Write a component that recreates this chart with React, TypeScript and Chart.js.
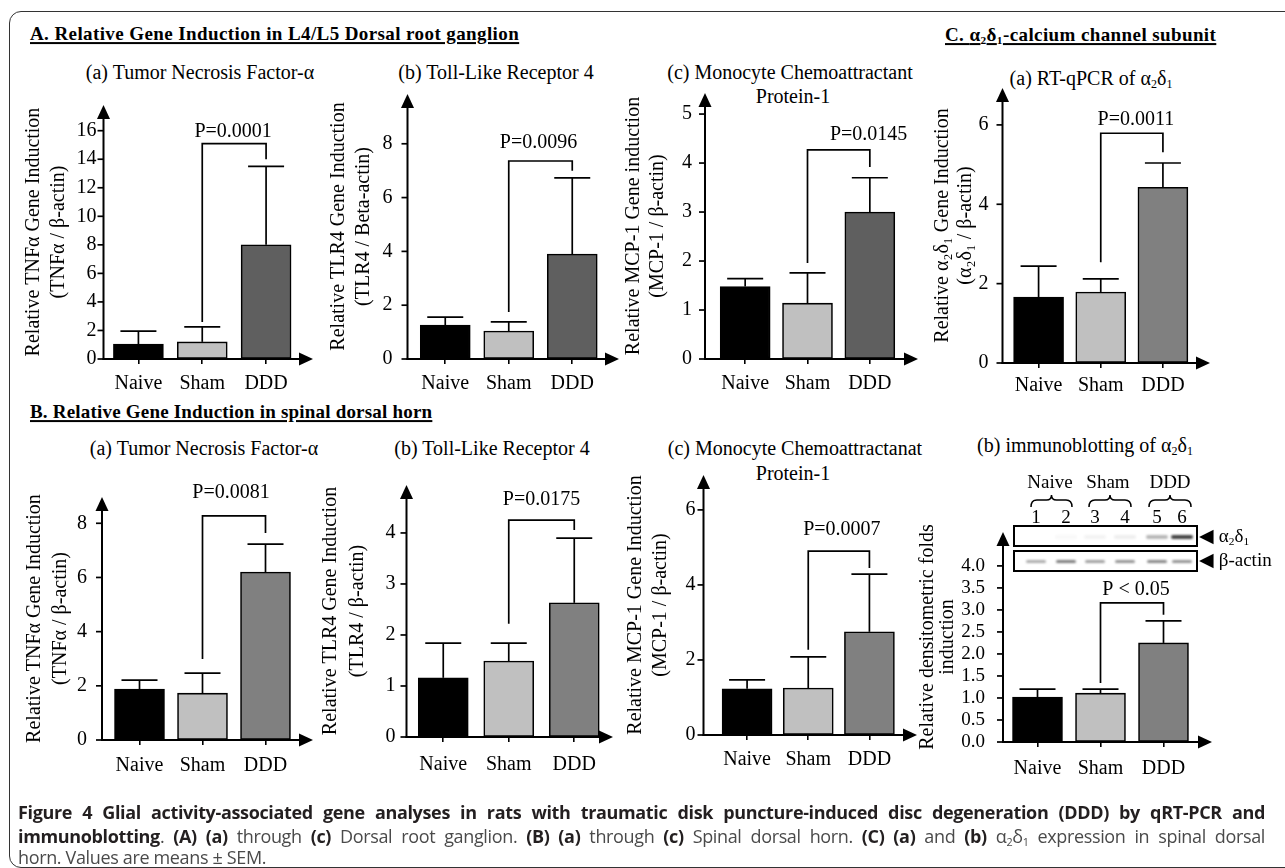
import React, { useEffect, useRef } from "react";
import { Chart, registerables } from "chart.js";
Chart.register(...registerables);

const SERIF = "'Liberation Serif', 'Times New Roman', serif";
const SANS = "'Open Sans', 'Noto Sans', sans-serif";

// ---------- data ----------
const groups = ["Naive", "Sham", "DDD"];

// A. L4/L5 dorsal root ganglion
const drgTnfMean = [1.05, 1.2, 8.0];
const drgTnfSem = [0.9, 1.05, 5.5];
const drgTnfTicks = [0, 2, 4, 6, 8, 10, 12, 14, 16];
const drgTnfBracket = [2.6, 15.1, 14.0];

const drgTlrMean = [1.26, 1.04, 3.9];
const drgTlrSem = [0.3, 0.34, 2.83];
const drgTlrTicks = [0, 2, 4, 6, 8];
const drgTlrBracket = [1.75, 7.36, 7.0];

const drgMcpMean = [1.48, 1.14, 3.0];
const drgMcpSem = [0.16, 0.62, 0.7];
const drgMcpTicks = [0, 1, 2, 3, 4, 5];
const drgMcpBracket = [1.96, 4.27, 3.92];

// C(a) RT-qPCR of a2d1
const a2d1Mean = [1.66, 1.79, 4.43];
const a2d1Sem = [0.78, 0.33, 0.61];
const a2d1Ticks = [0, 2, 4, 6];
const a2d1Bracket = [2.54, 5.79, 5.31];

// B. spinal dorsal horn
const sdhTnfMean = [1.88, 1.73, 6.2];
const sdhTnfSem = [0.33, 0.74, 1.03];
const sdhTnfTicks = [0, 2, 4, 6, 8];
const sdhTnfBracket = [2.99, 8.27, 7.64];

const sdhTlrMean = [1.16, 1.49, 2.63];
const sdhTlrSem = [0.68, 0.35, 1.27];
const sdhTlrTicks = [0, 1, 2, 3, 4];
const sdhTlrBracket = [2.22, 4.25, 4.06];

const sdhMcpMean = [1.23, 1.25, 2.75];
const sdhMcpSem = [0.24, 0.83, 1.54];
const sdhMcpTicks = [0, 2, 4, 6];
const sdhMcpBracket = [2.27, 4.9, 4.45];

// C(b) densitometry of immunoblot
const blotMean = [1.02, 1.11, 2.25];
const blotSem = [0.18, 0.09, 0.5];
const blotTicks = [0, 0.5, 1, 1.5, 2, 2.5, 3, 3.5, 4];
const blotBracket = [1.34, 3.16, 2.89];

const blotLanes = ["1", "2", "3", "4", "5", "6"];
const blotAlphaBand = [0.0, 0.03, 0.05, 0.07, 0.3, 0.8];
const blotActinBand = [0.35, 0.55, 0.4, 0.45, 0.5, 0.45];

// ---------- panels ----------
type Geo = {
  axisX: number; catLeft: number; catRight: number; y0: number; yTop: number;
  arrowX: number; line1X: number; lineGap: number; tickPad: number; pDx: number; pDy: number;
  tickSize: number; labelPad: number;
};
type Panel = {
  key: string; mean: number[]; sem: number[]; ticks: number[]; yMax: number;
  bracket: number[]; pText: string; yTitle: string[]; ddd: string; decimals: number; g: Geo;
};

const DARK = "#5f5f5f";
const MID = "#808080";

const panels: Panel[] = [
  {
    key: "Aa", mean: drgTnfMean, sem: drgTnfSem, ticks: drgTnfTicks, yMax: 17.8, bracket: drgTnfBracket,
    pText: "P=0.0001", yTitle: ["Relative TNFα Gene Induction", "(TNFα / β-actin)"], ddd: DARK, decimals: 0,
    g: { axisX: 103, catLeft: 106, catRight: 298, y0: 359, yTop: 105, arrowX: 313, line1X: 33, lineGap: 25, tickPad: 1, pDx: -1, pDy: 12, tickSize: 20, labelPad: 8 },
  },
  {
    key: "Ab", mean: drgTlrMean, sem: drgTlrSem, ticks: drgTlrTicks, yMax: 9.85, bracket: drgTlrBracket,
    pText: "P=0.0096", yTitle: ["Relative TLR4 Gene Induction", "(TLR4 / Beta-actin)"], ddd: DARK, decimals: 0,
    g: { axisX: 407, catLeft: 413, catRight: 604, y0: 359, yTop: 94, arrowX: 619, line1X: 338, lineGap: 25, tickPad: 9, pDx: -2, pDy: 18, tickSize: 20, labelPad: 8 },
  },
  {
    key: "Ac", mean: drgMcpMean, sem: drgMcpSem, ticks: drgMcpTicks, yMax: 5.43, bracket: drgMcpBracket,
    pText: "P=0.0145", yTitle: ["Relative MCP-1 Gene induction", "(MCP-1 / β-actin)"], ddd: DARK, decimals: 0,
    g: { axisX: 705, catLeft: 714, catRight: 901, y0: 359, yTop: 93, arrowX: 918, line1X: 634, lineGap: 24, tickPad: 7, pDx: 30, pDy: 15, tickSize: 20, labelPad: 8 },
  },
  {
    key: "Ca", mean: a2d1Mean, sem: a2d1Sem, ticks: a2d1Ticks, yMax: 6.93, bracket: a2d1Bracket,
    pText: "P=0.0011", yTitle: ["Relative α₂δ₁ Gene Induction", "(α₂δ₁ / β-actin)"], ddd: MID, decimals: 0,
    g: { axisX: 1002, catLeft: 1007, catRight: 1194, y0: 363, yTop: 88, arrowX: 1210, line1X: 942, lineGap: 23, tickPad: 8, pDx: 4, pDy: 13, tickSize: 20, labelPad: 6 },
  },
  {
    key: "Ba", mean: sdhTnfMean, sem: sdhTnfSem, ticks: sdhTnfTicks, yMax: 8.97, bracket: sdhTnfBracket,
    pText: "P=0.0081", yTitle: ["Relative TNFα Gene Induction", "(TNFα / β-actin)"], ddd: MID, decimals: 0,
    g: { axisX: 102, catLeft: 108, catRight: 297, y0: 740, yTop: 497, arrowX: 313, line1X: 35, lineGap: 26, tickPad: 9, pDx: -3, pDy: 23, tickSize: 20, labelPad: 9 },
  },
  {
    key: "Bb", mean: sdhTlrMean, sem: sdhTlrSem, ticks: sdhTlrTicks, yMax: 4.94, bracket: sdhTlrBracket,
    pText: "P=0.0175", yTitle: ["Relative TLR4 Gene Induction", "(TLR4 / β-actin)"], ddd: MID, decimals: 0,
    g: { axisX: 406, catLeft: 410, catRight: 607, y0: 737, yTop: 485, arrowX: 613, line1X: 330, lineGap: 27, tickPad: 5, pDx: 0, pDy: 20, tickSize: 20, labelPad: 11 },
  },
  {
    key: "Bc", mean: sdhMcpMean, sem: sdhMcpSem, ticks: sdhMcpTicks, yMax: 6.93, bracket: sdhMcpBracket,
    pText: "P=0.0007", yTitle: ["Relative MCP-1 Gene Induction", "(MCP-1 / β-actin)"], ddd: MID, decimals: 0,
    g: { axisX: 703, catLeft: 716, catRight: 900, y0: 735, yTop: 475, arrowX: 917, line1X: 635, lineGap: 25, tickPad: 2, pDx: 3, pDy: 21, tickSize: 20, labelPad: 8 },
  },
  {
    key: "Cb", mean: blotMean, sem: blotSem, ticks: blotTicks, yMax: 4.77, bracket: blotBracket,
    pText: "P < 0.05", yTitle: ["Relative densitometric folds", "induction"], ddd: MID, decimals: 1,
    g: { axisX: 1003, catLeft: 1006, catRight: 1195, y0: 742, yTop: 532, arrowX: 1212, line1X: 928, lineGap: 20, tickPad: 12, pDx: 4, pDy: 13, tickSize: 19, labelPad: 10 },
  },
];

const PAD_TOP = 30;
const X_H = 45;

function geoOf(p: Panel) {
  const g = p.g;
  const L = g.line1X - g.lineGap / 2;
  const T = g.yTop - PAD_TOP;
  const W = g.arrowX + 10 - L;
  const H = g.y0 + X_H - T;
  return { L, T, W, H, Yw: g.catLeft - L, padRight: g.arrowX + 10 - g.catRight };
}

function annotPlugin(p: Panel) {
  return {
    id: "annot" + p.key,
    afterDatasetsDraw(chart: any) {
      const { ctx, chartArea, scales } = chart;
      const y = scales.y;
      const meta = chart.getDatasetMeta(0);
      const g = p.g;
      const ax = chartArea.left - (g.catLeft - g.axisX);
      const tipX = chartArea.right + (g.arrowX - g.catRight);
      const y0 = y.getPixelForValue(0);
      const top = chartArea.top;
      const line = (pts: number[][]) => {
        ctx.beginPath();
        ctx.moveTo(pts[0][0], pts[0][1]);
        for (let i = 1; i < pts.length; i++) ctx.lineTo(pts[i][0], pts[i][1]);
        ctx.stroke();
      };
      ctx.save();
      ctx.strokeStyle = "#000";
      ctx.fillStyle = "#000";
      ctx.lineCap = "butt";
      // error bars (upper)
      ctx.lineWidth = 1.7;
      meta.data.forEach((bar: any, i: number) => {
        const yt = y.getPixelForValue(p.mean[i]);
        const ye = y.getPixelForValue(p.mean[i] + p.sem[i]);
        line([[bar.x, yt], [bar.x, ye]]);
        line([[bar.x - 18, ye], [bar.x + 18, ye]]);
      });
      // axes
      ctx.lineWidth = 2;
      line([[ax, y0 + 1], [ax, top + 8]]);
      line([[ax - 1, y0], [tipX - 8, y0]]);
      ctx.beginPath();
      ctx.moveTo(ax, top);
      ctx.lineTo(ax - 6.5, top + 14);
      ctx.lineTo(ax + 6.5, top + 14);
      ctx.closePath();
      ctx.fill();
      ctx.beginPath();
      ctx.moveTo(tipX, y0);
      ctx.lineTo(tipX - 14, y0 - 6.5);
      ctx.lineTo(tipX - 14, y0 + 6.5);
      ctx.closePath();
      ctx.fill();
      // y tick marks
      ctx.lineWidth = 1.7;
      y.ticks.forEach((t: any) => {
        const py = y.getPixelForValue(t.value);
        line([[ax - 6, py], [ax, py]]);
      });
      // significance bracket
      const xL = meta.data[1].x;
      const xR = meta.data[2].x;
      const [b0, b1, b2] = p.bracket;
      const yb = y.getPixelForValue(b1);
      ctx.lineWidth = 1.7;
      line([[xL, y.getPixelForValue(b0)], [xL, yb], [xR, yb], [xR, y.getPixelForValue(b2)]]);
      ctx.font = `20px ${SERIF}`;
      ctx.textAlign = "center";
      ctx.textBaseline = "middle";
      ctx.fillText(p.pText, (xL + xR) / 2 + g.pDx, yb - g.pDy);
      ctx.restore();
    },
  };
}

function PanelChart({ p }: { p: Panel }) {
  const ref = useRef<HTMLCanvasElement>(null);
  const geo = geoOf(p);
  useEffect(() => {
    const chart = new Chart(ref.current as HTMLCanvasElement, {
      type: "bar",
      data: {
        labels: groups,
        datasets: [
          {
            data: p.mean,
            backgroundColor: ["#000000", "#c0c0c0", p.ddd],
            borderColor: "#000",
            borderWidth: 1.6,
            borderSkipped: false,
            barThickness: 50,
          },
        ],
      },
      options: {
        responsive: false,
        animation: false,
        events: [],
        layout: { padding: { top: PAD_TOP, left: 0, right: geo.padRight, bottom: 0 } },
        plugins: { legend: { display: false }, tooltip: { enabled: false }, title: { display: false } },
        scales: {
          x: {
            type: "category",
            offset: true,
            grid: { display: true, drawOnChartArea: false, drawTicks: true, tickLength: 5, offset: false, color: "#000", lineWidth: 1.6 },
            border: { display: false },
            ticks: { font: { family: SERIF, size: 20 }, color: "#000", padding: p.g.labelPad, maxRotation: 0, autoSkip: false },
            afterFit: (s: any) => { s.height = X_H; },
          },
          y: {
            type: "linear",
            min: 0,
            max: p.yMax,
            afterBuildTicks: (s: any) => { s.ticks = p.ticks.map((v) => ({ value: v })); },
            grid: { display: true, drawOnChartArea: false, drawTicks: true, tickLength: (p.g.catLeft - p.g.axisX) + 6, color: "rgba(0,0,0,0)" },
            border: { display: false },
            ticks: {
              font: { family: SERIF, size: p.g.tickSize },
              color: "#000",
              padding: p.g.tickPad,
              autoSkip: false,
              callback: (v: any) => Number(v).toFixed(p.decimals),
            },
            title: {
              display: true,
              text: p.yTitle,
              font: { family: SERIF, size: 20, lineHeight: p.g.lineGap / 20 },
              color: "#000",
              padding: 0,
            },
            afterFit: (s: any) => { s.width = geo.Yw; },
          },
        },
      } as any,
      plugins: [annotPlugin(p) as any],
    });
    return () => chart.destroy();
  }, []);
  return (
    <canvas
      ref={ref}
      width={geo.W}
      height={geo.H}
      style={{ position: "absolute", left: geo.L, top: geo.T, width: geo.W, height: geo.H }}
    />
  );
}

// ---------- text helpers ----------
function Txt({ x, y, children, anchor = "middle", size = 20, bold = false, underline = false, family = SERIF, spacing = 0 }: any) {
  return (
    <div
      style={{
        position: "absolute",
        left: x,
        top: y,
        transform: `translate(${anchor === "middle" ? "-50%" : "0"}, -50%)`,
        fontFamily: family,
        fontSize: size,
        fontWeight: bold ? 700 : 400,
        textDecoration: underline ? "underline" : "none",
        textDecorationThickness: underline ? "1.5px" : undefined,
        textUnderlineOffset: underline ? "2px" : undefined,
        letterSpacing: spacing,
        whiteSpace: "nowrap",
        lineHeight: 1.15,
        color: "#000",
      }}
    >
      {children}
    </div>
  );
}

const Sub = ({ c }: { c: string }) => <sub style={{ fontSize: "0.6em", verticalAlign: "-0.25em", lineHeight: 0 }}>{c}</sub>;
const A2D1 = () => (
  <>
    α<Sub c="2" />δ<Sub c="1" />
  </>
);

function Brace({ x1, x2, y }: { x1: number; x2: number; y: number }) {
  const w = x2 - x1;
  const m = w / 2;
  const d = `M1,13 Q1,6 7,6 L${m - 5},6 Q${m},6 ${m},1 Q${m},6 ${m + 5},6 L${w - 7},6 Q${w - 1},6 ${w - 1},13`;
  return (
    <svg style={{ position: "absolute", left: x1, top: y - 7 }} width={w} height={14}>
      <path d={d} stroke="#000" strokeWidth={1.5} fill="none" />
    </svg>
  );
}

function Blot() {
  const laneX = [1036, 1066, 1095, 1125, 1157, 1182];
  return (
    <>
      <Txt x={1050} y={482} size={19}>Naive</Txt>
      <Txt x={1108} y={482} size={19}>Sham</Txt>
      <Txt x={1170} y={482} size={19}>DDD</Txt>
      <Brace x1={1030} x2={1073} y={501} />
      <Brace x1={1088} x2={1132} y={501} />
      <Brace x1={1148} x2={1192} y={501} />
      {blotLanes.map((l, i) => (
        <Txt key={l} x={laneX[i]} y={517} size={19}>{l}</Txt>
      ))}
      <div style={{ position: "absolute", left: 1013, top: 525, width: 181, height: 18, border: "2px solid #000", overflow: "hidden" }}>
        {blotAlphaBand.map((a, i) => (
          <div key={i} style={{ position: "absolute", left: laneX[i] - 1015 - 11, top: 8, width: 22, height: 4, borderRadius: 2, background: `rgba(20,20,20,${a})`, filter: "blur(0.8px)" }} />
        ))}
      </div>
      <div style={{ position: "absolute", left: 1013, top: 550, width: 181, height: 18, border: "2px solid #000", overflow: "hidden" }}>
        {blotActinBand.map((a, i) => (
          <div key={i} style={{ position: "absolute", left: laneX[i] - 1015 - 10, top: 8, width: 20, height: 3, borderRadius: 2, background: `rgba(20,20,20,${a})`, filter: "blur(0.8px)" }} />
        ))}
      </div>
      <Txt x={1199} y={536} anchor="start" size={19}>◀ <A2D1 /></Txt>
      <Txt x={1199} y={560} anchor="start" size={19}>◀ β-actin</Txt>
    </>
  );
}

const B = ({ children }: any) => <b style={{ color: "#231f20" }}>{children}</b>;

const capLine = (top: number): any => ({ position: "absolute", left: 0, top, width: 1247, height: 22, lineHeight: "22px", overflow: "visible" });

export default function App() {
  return (
    <div style={{ position: "absolute", left: 0, top: 0, width: 1285, height: 868, overflow: "hidden", background: "#fff" }}>
      <div style={{ position: "absolute", left: 9, top: 11, width: 1300, height: 855, border: "1.5px solid #333", borderRadius: 12 }} />

      {/* section headers */}
      <Txt x={30} y={34} anchor="start" size={19} bold underline spacing={0.4}>A. Relative Gene Induction in L4/L5 Dorsal root ganglion</Txt>
      <Txt x={30} y={412} anchor="start" size={19} bold underline spacing={0.2}>B. Relative Gene Induction in spinal dorsal horn</Txt>
      <Txt x={945} y={35} anchor="start" size={19} bold underline spacing={0.4}>C. <A2D1 />-calcium channel subunit</Txt>

      {/* panel titles */}
      <Txt x={200} y={72}>(a) Tumor Necrosis Factor-α</Txt>
      <Txt x={496} y={72}>(b) Toll-Like Receptor 4</Txt>
      <Txt x={790} y={72}>(c) Monocyte Chemoattractant</Txt>
      <Txt x={793} y={96}>Protein-1</Txt>
      <Txt x={1091} y={78}>(a) RT-qPCR of <A2D1 /></Txt>
      <Txt x={204} y={448}>(a) Tumor Necrosis Factor-α</Txt>
      <Txt x={492} y={448}>(b) Toll-Like Receptor 4</Txt>
      <Txt x={795} y={448}>(c) Monocyte Chemoattractanat</Txt>
      <Txt x={793} y={473}>Protein-1</Txt>
      <Txt x={1085} y={445}>(b) immunoblotting of <A2D1 /></Txt>

      {panels.map((p) => (
        <PanelChart key={p.key} p={p} />
      ))}

      <Blot />

      {/* caption */}
      <div style={{ position: "absolute", left: 18, top: 0, width: 1247, height: 868, fontFamily: SANS, fontSize: 18, color: "#4a4a4a" }}>
        <div style={{ ...capLine(801), textAlign: "justify", textAlignLast: "justify", fontWeight: 700, color: "#231f20", letterSpacing: -0.35 }}>
          Figure 4 Glial activity-associated gene analyses in rats with traumatic disk puncture-induced disc degeneration (DDD) by qRT-PCR and
        </div>
        <div style={{ ...capLine(825), textAlign: "justify", textAlignLast: "justify", letterSpacing: -0.35 }}>
          <B>immunoblotting</B>. <B>(A) (a)</B> through <B>(c)</B> Dorsal root ganglion. <B>(B) (a)</B> through <B>(c)</B> Spinal dorsal horn. <B>(C) (a)</B> and <B>(b)</B> <A2D1 /> expression in spinal dorsal
        </div>
        <div style={{ ...capLine(846), letterSpacing: -0.35 }}>horn. Values are means ± SEM.</div>
      </div>
    </div>
  );
}
